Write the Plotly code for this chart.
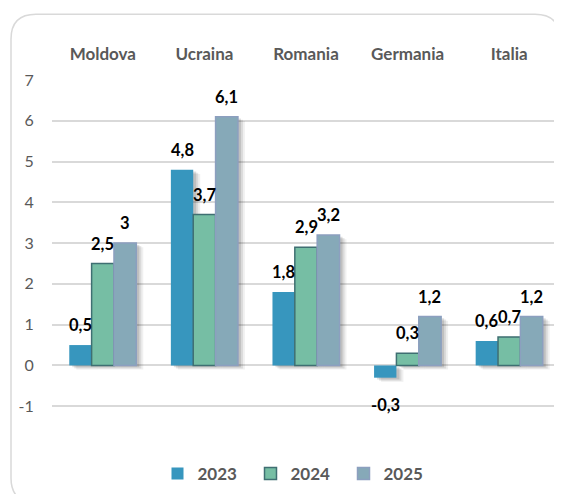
import plotly.graph_objects as go

categories = ["Moldova", "Ucraina", "Romania", "Germania", "Italia"]
years = ["2023", "2024", "2025"]
values_2023 = [0.5, 4.8, 1.8, -0.3, 0.6]
values_2024 = [2.5, 3.7, 2.9, 0.3, 0.7]
values_2025 = [3.0, 6.1, 3.2, 1.2, 1.2]
y_ticks = [-1, 0, 1, 2, 3, 4, 5, 6, 7]

series = [values_2023, values_2024, values_2025]
fills = ["#3796BE", "#76BEA4", "#86A9B8"]
outlines = ["#3796BE", "#3F6F72", "#8C9FBF"]
outline_w = [0, 1.5, 1.5]

OFF = 8  # page body margin
W, H = 562 - OFF, 494 - OFF
L, T = 52 - OFF, 80 - OFF
R = W - (560 - OFF)
B = H - (449 - OFF)
pw, ph = W - L - R, H - T - B
FONT = "Lato, Open Sans, sans-serif"
YMIN, YMAX = -2, 7
px_x = 5 / pw            # category units per pixel
px_y = (YMAX - YMIN) / ph  # value units per pixel
BW = 0.22                # bar width in category units

fig = go.Figure()
# soft shadows (drawn first, below the bars)
for d, a in [(7, 0.06), (5, 0.09), (3, 0.12)]:
    for i, vals in enumerate(series):
        fig.add_trace(go.Bar(
            x=categories, y=vals, base=-d * px_y * 0.6,
            offset=-1.5 * BW + i * BW + d * px_x, width=BW,
            marker=dict(color="rgba(0,0,0,%.2f)" % a, line=dict(width=0)),
            showlegend=False, hoverinfo="skip",
        ))

for i, (name, vals, fc, lc, lw) in enumerate(zip(years, series, fills, outlines, outline_w)):
    fig.add_trace(go.Bar(
        x=categories, y=vals, name=name,
        offset=-1.5 * BW + i * BW, width=BW,
        marker=dict(color=fc, line=dict(color=lc, width=lw)),
    ))

def fmt(v):
    return ("%g" % v).replace(".", ",")

bar_px = BW / px_x
for i, vals in enumerate(series):
    for c, v in zip(categories, vals):
        fig.add_annotation(
            x=c, y=v, xref="x", yref="y", text="<b>%s</b>" % fmt(v),
            showarrow=False, xshift=(i - 1) * bar_px,
            yshift=20 if v >= 0 else -27, yanchor="middle",
            font=dict(family=FONT, size=16.5, color="#000000"),
        )

def P(x, y):
    a = (x - OFF - L) / pw
    b = (H - B - (y - OFF)) / ph
    return "%.5f,%.5f" % (a, b)

x0, y0, x1, y1, r = 11, 14, 560, 505, 25
path = ("M " + P(x0 + r, y0) + " L " + P(x1 - r, y0) + " Q " + P(x1, y0) + " " + P(x1, y0 + r) +
        " L " + P(x1, y1 - r) + " Q " + P(x1, y1) + " " + P(x1 - r, y1) +
        " L " + P(x0 + r, y1) + " Q " + P(x0, y1) + " " + P(x0, y1 - r) +
        " L " + P(x0, y0 + r) + " Q " + P(x0, y0) + " " + P(x0 + r, y0) + " Z")
fig.add_shape(type="path", path=path, xref="paper", yref="paper",
              line=dict(color="#D9D9D9", width=1.5), layer="below")

fig.update_layout(
    width=W, height=H,
    margin=dict(l=L, r=R, t=T, b=B),
    paper_bgcolor="white", plot_bgcolor="white",
    barmode="overlay",
    separators=", ",
    font=dict(family=FONT, color="#595959"),
    xaxis=dict(side="top", showgrid=False, showline=False, zeroline=False,
               range=[-0.5, 4.5],
               ticks="outside", ticklen=12, tickcolor="rgba(0,0,0,0)",
               tickfont=dict(size=17, color="#595959", family=FONT, weight="bold"),
               fixedrange=True),
    yaxis=dict(range=[YMIN, YMAX], tickvals=y_ticks, ticktext=[str(t) for t in y_ticks],
               showgrid=True, gridcolor="#D9D9D9", gridwidth=1.5,
               zeroline=True, zerolinecolor="#D9D9D9", zerolinewidth=1.5,
               ticks="outside", ticklen=14, tickcolor="rgba(0,0,0,0)",
               tickfont=dict(size=16, color="#595959"), fixedrange=True),
    showlegend=True,
    legend=dict(orientation="h", x=(297 - 52) / 508, xanchor="center",
                y=(449 - 476) / ph, yanchor="middle",
                entrywidth=48, entrywidthmode="pixels",
                font=dict(size=17, color="#595959", weight="bold"), traceorder="normal"),
)

fig.write_html("out.html")
